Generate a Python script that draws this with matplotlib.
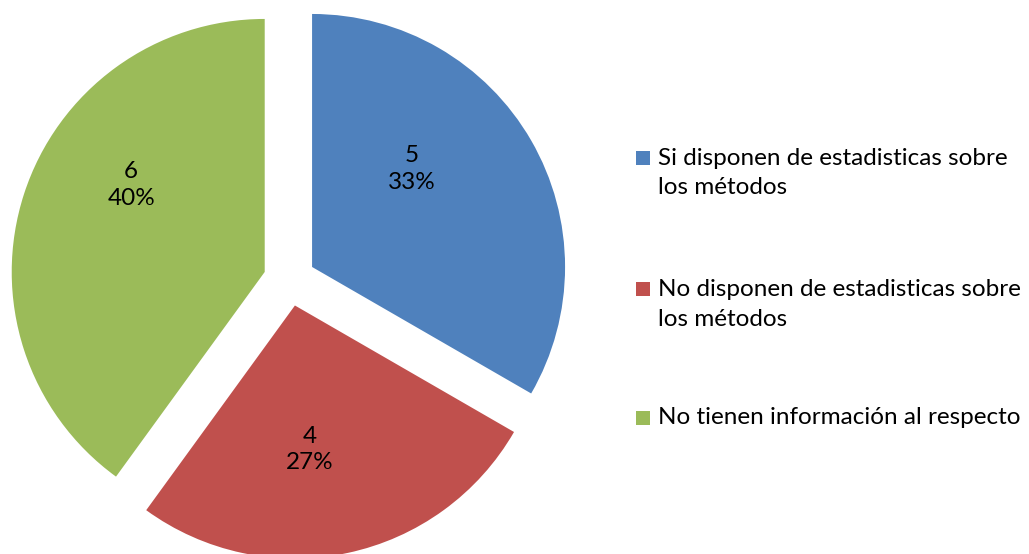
import matplotlib
matplotlib.use("Agg")
import matplotlib.pyplot as plt
from matplotlib.patches import Rectangle

# data
categories = ["Si disponen de estadisticas sobre\nlos métodos",
              "No disponen de estadisticas sobre\nlos métodos",
              "No tienen información al respecto"]
counts = [5, 4, 6]
colors = ["#4F81BD", "#C0504D", "#9BBB59"]

plt.rcParams['font.family'] = ['Lato', 'DejaVu Sans']

W, H = 1029, 554
fig = plt.figure(figsize=(W / 100, H / 100), dpi=100)
ax = fig.add_axes([0, 0, 1, 1])

total = sum(counts)
ax.pie(counts, colors=colors, startangle=90, counterclock=False,
       explode=[0.103] * len(counts), radius=1.0,
       wedgeprops=dict(linewidth=0))

# pie centre and scale in pixels
cx, cy, r = 289.5, 280.0, 253.0
ax.set_xlim((0 - cx) / r, (W - cx) / r)
ax.set_ylim(-(H - cy) / r, cy / r)
ax.set_aspect('auto')
ax.axis('off')

# data label positions (relative to pie centre, in radius units)
label_pos = [(0.484, 0.439), (0.081, -0.670), (-0.626, 0.375)]
for (x, y), n in zip(label_pos, counts):
    pct = round(100 * n / total)
    ax.text(x, y, f"{n}\n{pct}%", ha='center', va='center',
            fontsize=17.5, linespacing=1.35, color='black')

# legend
ys = [158, 289, 418]
for y, lab, c in zip(ys, categories, colors):
    fig.patches.append(Rectangle(((636) / W, 1 - (y + 7) / H), 14 / W, 14 / H,
                                 transform=fig.transFigure, facecolor=c,
                                 edgecolor='none'))
    for i, line in enumerate(lab.split("\n")):
        fig.text(658 / W, 1 - (y + 30 * i) / H, line, ha='left', va='center',
                 fontsize=17.5, color='black')

fig.savefig("out.png", dpi=100)
